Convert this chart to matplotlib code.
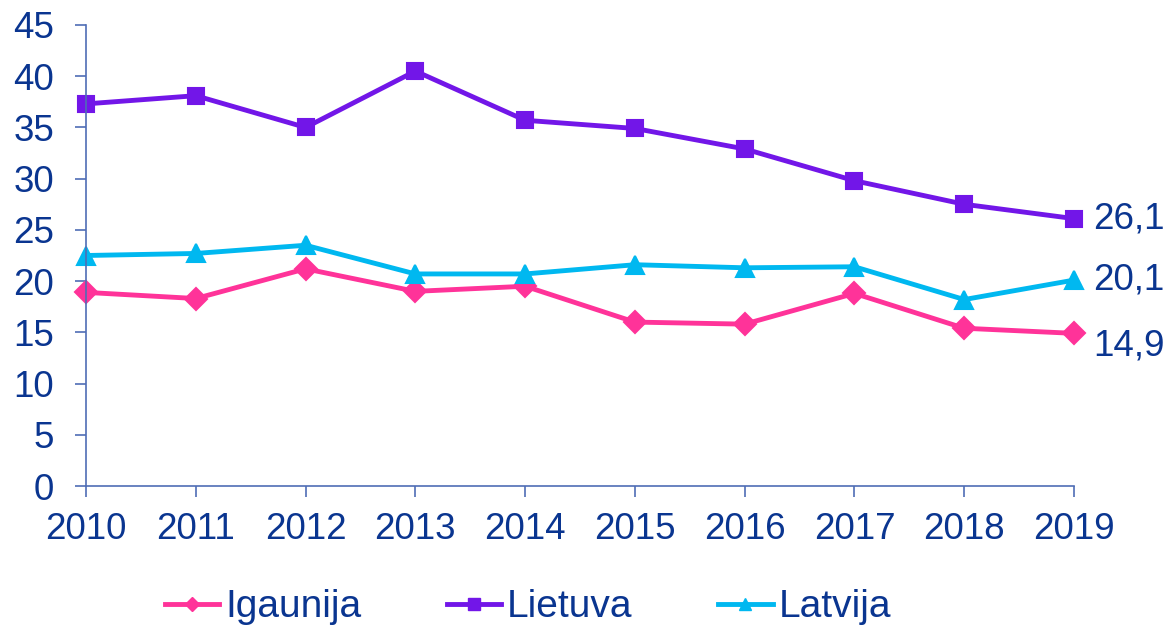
import matplotlib
matplotlib.use("Agg")
import matplotlib.pyplot as plt

years = [2010, 2011, 2012, 2013, 2014, 2015, 2016, 2017, 2018, 2019]
igaunija = [18.9, 18.3, 21.2, 19.0, 19.5, 16.0, 15.8, 18.8, 15.4, 14.9]
lietuva = [37.3, 38.1, 35.0, 40.5, 35.7, 34.9, 32.9, 29.8, 27.5, 26.1]
latvija = [22.5, 22.7, 23.5, 20.7, 20.7, 21.6, 21.3, 21.4, 18.2, 20.1]
end_labels = ["14,9", "26,1", "20,1"]
label_dy = [-9, 0, 0]  # 14,9 sits a bit below its point

txt_col = "#0A3590"
axis_col = "#4F6DB5"
plt.rcParams['font.family'] = ['Liberation Sans', 'DejaVu Sans']

fig = plt.figure(figsize=(11.72, 6.28), dpi=100)
ax = fig.add_axes([0.0734, 0.2261, 0.8430, 0.7341])

series = [
    ("Igaunija", igaunija, "#FF3399", "D", 11, 7),
    ("Lietuva", lietuva, "#7216E8", "s", 12, 8),
    ("Latvija", latvija, "#00B8F0", "^", 13, 8),
]
handles = []
for (name, vals, col, mk, ms, lms), lab, dy in zip(series, end_labels, label_dy):
    ax.plot(years, vals, color=col, lw=3.5, marker=mk, markersize=ms,
            markeredgewidth=1.5, clip_on=False, solid_joinstyle="round")
    # smaller marker for the legend entry
    h, = ax.plot([], [], color=col, lw=3.5, marker=mk, markersize=lms,
                 label=name)
    handles.append(h)
    ax.annotate(lab, (years[-1], vals[-1]), xytext=(14, dy),
                textcoords="offset points", va="center", ha="left",
                fontsize=26.5, color=txt_col, annotation_clip=False)

ax.set_xlim(2010, 2019)
ax.set_ylim(0, 45)
ax.set_xticks(years)
ax.set_yticks(range(0, 46, 5))
for s in ["top", "right"]:
    ax.spines[s].set_visible(False)
for s in ["left", "bottom"]:
    ax.spines[s].set_color(axis_col)
    ax.spines[s].set_linewidth(1.2)
ax.tick_params(axis="both", colors=axis_col, labelcolor=txt_col,
               labelsize=26.5, length=8, width=1.2, direction="out")
ax.tick_params(axis="y", pad=15)
ax.tick_params(axis="x", pad=11)

fig.legend(handles=handles, loc="center", bbox_to_anchor=(0.4505, 0.033),
           ncol=3, frameon=False, fontsize=28, handlelength=1.4,
           handletextpad=0.15, columnspacing=2.2, labelcolor=txt_col)

fig.savefig("out.png", dpi=100)
